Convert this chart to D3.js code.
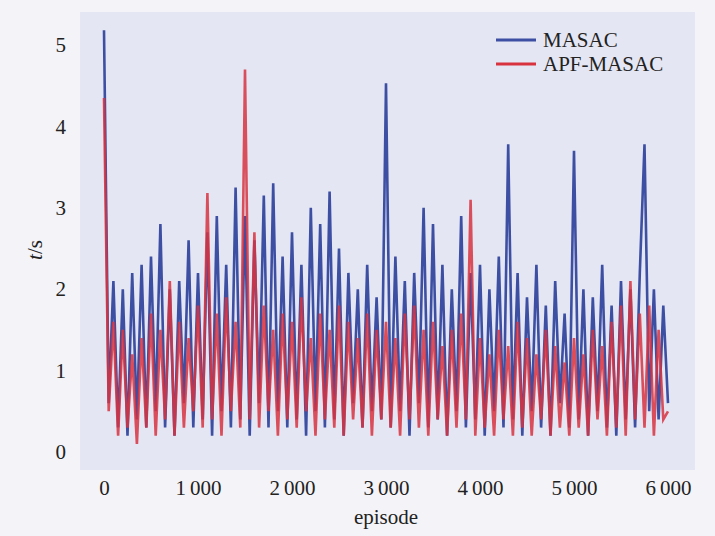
<!DOCTYPE html><html><head><meta charset="utf-8">
<script src="https://cdn.jsdelivr.net/npm/d3@7"></script>
<style>body{margin:0;background:#f4f4f8} svg text{font-family:"Liberation Serif","DejaVu Serif","Noto Serif","Times New Roman",serif !important}</style></head><body><svg width="715" height="536"></svg>
<script>
const step=50;
const masac=[5.18,0.6,2.1,0.3,2.0,0.2,2.2,0.4,2.3,0.3,2.4,0.5,2.8,0.3,2.0,0.2,2.1,0.6,2.6,0.3,2.2,0.4,2.7,0.2,2.9,0.5,2.3,0.3,3.25,0.4,2.9,0.2,2.6,0.6,3.15,0.3,3.3,0.5,2.4,0.3,2.7,0.4,2.3,0.2,3.0,0.5,2.8,0.3,3.2,0.4,2.5,0.2,2.2,0.6,2.0,0.3,2.3,0.5,1.9,0.4,4.53,0.3,2.4,0.5,2.1,0.2,2.2,0.6,3.0,0.3,2.8,0.4,2.3,0.2,2.0,0.5,2.9,0.3,2.2,0.4,2.3,0.2,2.0,0.5,2.4,0.3,3.78,0.4,2.2,0.2,1.9,0.5,2.3,0.3,1.8,0.2,2.1,0.6,1.7,0.3,3.7,0.4,2.0,0.2,1.9,0.5,2.3,0.3,1.8,0.2,2.1,0.4,2.0,0.3,2.2,3.78,0.5,2.0,0.4,1.8,0.6];
const apf=[4.35,0.5,1.6,0.2,1.5,0.3,1.2,0.1,1.4,0.3,1.7,0.2,1.5,0.4,2.1,0.2,1.6,0.3,1.4,0.5,1.8,0.3,3.18,0.4,1.7,0.2,1.9,0.5,1.6,0.3,4.7,0.4,2.7,0.3,1.8,0.5,1.5,0.2,1.7,0.4,1.6,0.3,1.9,0.5,1.4,0.2,1.7,0.4,1.5,0.3,1.8,0.2,1.6,0.4,1.4,0.3,1.7,0.2,1.5,0.4,1.6,0.3,1.4,0.2,1.7,0.4,1.8,0.3,1.5,0.2,1.6,0.4,1.3,0.2,1.5,0.3,1.7,0.4,3.1,0.2,1.4,0.3,1.2,0.2,1.5,0.4,1.3,0.2,1.6,0.3,1.4,0.2,1.2,0.4,1.5,0.2,1.3,0.3,1.1,0.2,1.4,0.3,1.2,0.2,1.5,0.4,1.3,0.2,1.6,0.3,1.8,0.2,2.1,0.4,1.7,0.3,1.8,0.2,1.5,0.4,0.5];
const xTicks=[0,1000,2000,3000,4000,5000,6000];
const yTicks=[0,1,2,3,4,5];
const svg=d3.select("svg");
const x=d3.scaleLinear().domain([0,6000]).range([104,668]);
const y=d3.scaleLinear().domain([0,5]).range([452,45]);
svg.append("rect").attr("x",80).attr("y",12).attr("width",615).attr("height",458).attr("fill","#e4e6f3");
const line=d3.line().x((d,i)=>x(i*step)).y(d=>y(d));
svg.append("path").datum(masac).attr("d",line).attr("fill","none").attr("stroke","#3d4fa3").attr("stroke-width",2.6);
svg.append("path").datum(apf).attr("d",line).attr("fill","none").attr("stroke","#d8323f").attr("stroke-width",2.6).attr("opacity",0.85);
const fmt=v=>v>=1000?(Math.floor(v/1000)+"\u2009"+"000"):String(v);
const xa=svg.append("g").attr("transform","translate(0,470)").call(d3.axisBottom(x).tickValues(xTicks).tickFormat(fmt).tickSize(0).tickPadding(10));
const ya=svg.append("g").attr("transform","translate(80,0)").call(d3.axisLeft(y).tickValues(yTicks).tickFormat(d3.format("d")).tickSize(0).tickPadding(14));
[xa,ya].forEach(a=>{a.attr("font-family",null);a.select(".domain").remove();a.selectAll("text").attr("font-size",21).attr("fill","#222");});
svg.append("text").attr("x",386).attr("y",524).attr("text-anchor","middle").attr("font-size",21).attr("fill","#222").text("episode");
svg.append("text").attr("transform","translate(42,250) rotate(-90)").attr("text-anchor","middle").attr("font-size",21).attr("fill","#222").html("<tspan font-style='italic'>t</tspan>/s");
[["MASAC","#3d4fa3"],["APF-MASAC","#d8323f"]].forEach((l,i)=>{
 svg.append("line").attr("x1",496).attr("x2",536).attr("y1",40+i*24).attr("y2",40+i*24).attr("stroke",l[1]).attr("stroke-width",3);
 svg.append("text").attr("x",543).attr("y",47+i*24).attr("font-size",21).attr("fill","#222").text(l[0]);
});
</script></body></html>
